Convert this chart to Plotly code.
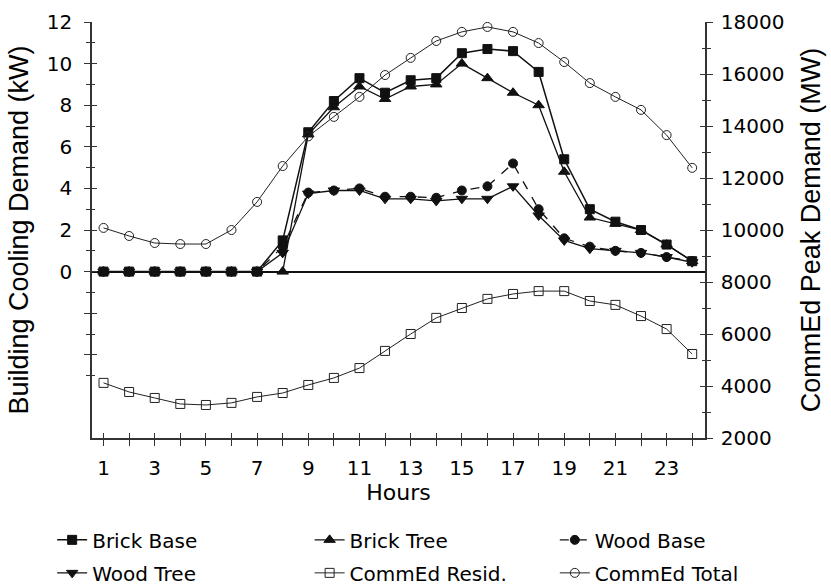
import plotly.graph_objects as go

# Hour of day
hours = list(range(1, 25))
hour_labels = [str(h) if h % 2 == 1 else "" for h in hours]

# Building cooling demand (kW)
brick_base = [0, 0, 0, 0, 0, 0, 0, 1.5, 6.7, 8.2, 9.3, 8.6, 9.2, 9.3,
              10.5, 10.7, 10.6, 9.6, 5.4, 3.0, 2.4, 2.0, 1.3, 0.5]
brick_tree = [0, 0, 0, 0, 0, 0, 0, 0, 6.6, 7.9, 8.9, 8.3, 8.9, 9.0,
              10.0, 9.3, 8.6, 8.0, 4.8, 2.6, 2.3, 2.0, 1.3, 0.5]
wood_base = [0, 0, 0, 0, 0, 0, 0, 1.2, 3.8, 3.9, 4.0, 3.6, 3.6, 3.55,
             3.9, 4.1, 5.2, 3.0, 1.6, 1.2, 1.0, 0.9, 0.7, 0.5]
wood_tree = [0, 0, 0, 0, 0, 0, 0, 0.9, 3.75, 3.9, 3.9, 3.5, 3.5, 3.4,
             3.5, 3.5, 4.1, 2.7, 1.5, 1.1, 1.0, 0.9, 0.7, 0.45]

# CommEd peak demand (MW)
commed_resid = [4120, 3770, 3540, 3310, 3270, 3350, 3580, 3730, 4040, 4310, 4690, 5350,
                6000, 6620, 7000, 7350, 7540, 7650, 7650, 7270, 7120, 6690, 6190, 5230]
commed_total = [10080, 9770, 9500, 9460, 9460, 10000, 11080, 12460, 13600, 14350, 15120, 15960,
                16620, 17270, 17620, 17810, 17620, 17190, 16460, 15650, 15120, 14620, 13650, 12390]

# Axis ticks
kw_range = [-8, 12]
kw_major = [-4, -2, 0, 2, 4, 6, 8, 10, 12]
kw_labels = ["", "", "0", "2", "4", "6", "8", "10", "12"]
kw_minor = [-5, -3, -1, 1, 3, 5, 7, 9, 11]
mw_range = [2000, 18000]
mw_major = [2000, 4000, 6000, 8000, 10000, 12000, 14000, 16000, 18000]
mw_labels = ["2000", "4000", "6000", "8000", "10000", "12000", "14000", "16000", "18000"]
mw_minor = [3000, 5000, 7000, 9000, 11000, 13000, 15000, 17000]
hour_range = [0.55, 24.5]

INK = "#111111"
AXIS = "#333333"
TICK_FONT = dict(family="DejaVu Sans", size=20, color="#000000")
TITLE_FONT = dict(family="Liberation Sans", size=27, color="#000000")
LEGEND_FONT = dict(family="DejaVu Sans", size=20, color="#000000")

fig = go.Figure()


def add_series(name, y, symbol, legend, dash="solid", width=1.4, size=9,
               axis="y", color=INK):
    fig.add_trace(go.Scatter(
        x=hours, y=y, name=name, mode="lines+markers", yaxis=axis,
        line=dict(color=color, width=width, dash=dash),
        marker=dict(symbol=symbol, size=size, color=color,
                    line=dict(color=color, width=1)),
        legend=legend, legendgroup=name,
    ))


add_series("Brick Base", brick_base, "square", "legend", width=1.5, size=9)
add_series("Brick Tree", brick_tree, "triangle-up", "legend2", width=1.3, size=10)
add_series("Wood Base", wood_base, "circle", "legend3", dash="dash", width=1.3, size=9)
add_series("Wood Tree", wood_tree, "triangle-down", "legend", width=1.3, size=10)
add_series("CommEd Resid.", commed_resid, "square-open", "legend2", width=1,
           size=9, axis="y2", color="#222222")
add_series("CommEd Total", commed_total, "circle-open", "legend3", width=1,
           size=9, axis="y2", color="#222222")

# empty traces that carry the inner half of the crossing ticks
for xa, ya in [("x", "y3"), ("x", "y4"), ("x2", "y")]:
    fig.add_trace(go.Scatter(x=[None], y=[None], xaxis=xa, yaxis=ya,
                             showlegend=False, hoverinfo="skip"))

common = dict(showgrid=False, zeroline=False, tickcolor=AXIS, tickwidth=1.3)

fig.update_layout(
    width=831, height=585,
    margin=dict(l=92, r=126, t=22, b=147, autoexpand=False),
    paper_bgcolor="white", plot_bgcolor="white",
    xaxis=dict(
        range=hour_range, tickmode="array", tickvals=hours, ticktext=hour_labels,
        ticks="outside", ticklen=6, showline=True, linecolor=AXIS, linewidth=1.5,
        tickfont=TICK_FONT, ticklabelstandoff=5, anchor="y",
        title=dict(text="Hours", font=dict(family="DejaVu Sans", size=22, color="#000"),
                   standoff=0),
        **common),
    xaxis2=dict(
        range=hour_range, overlaying="x", anchor="y", side="bottom",
        tickmode="array", tickvals=hours, ticks="inside", ticklen=5,
        showticklabels=False, showline=False, **common),
    yaxis=dict(
        range=kw_range, tickmode="array", tickvals=kw_major, ticktext=kw_labels,
        ticks="outside", ticklen=6, showline=True, linecolor=AXIS, linewidth=1.5,
        minor=dict(tickvals=kw_minor, ticks="outside", ticklen=4, tickcolor=AXIS),
        tickfont=TICK_FONT, ticklabelstandoff=8, showgrid=False,
        zeroline=True, zerolinecolor=INK, zerolinewidth=1.5,
        tickcolor=AXIS, tickwidth=1.3,
        title=dict(text="Building Cooling Demand (kW)", font=TITLE_FONT, standoff=10)),
    yaxis2=dict(
        range=mw_range, overlaying="y", side="right", anchor="x",
        tickmode="array", tickvals=mw_major, ticktext=mw_labels,
        ticks="outside", ticklen=6,
        minor=dict(tickvals=mw_minor, ticks="outside", ticklen=4, tickcolor=AXIS),
        showline=True, linecolor=AXIS, linewidth=1.5, tickfont=TICK_FONT,
        ticklabelstandoff=4,
        title=dict(text="CommEd Peak Demand (MW)", font=TITLE_FONT, standoff=18),
        **common),
    yaxis3=dict(
        range=kw_range, overlaying="y", side="left", anchor="x",
        tickmode="array", tickvals=kw_major, ticks="inside", ticklen=5,
        minor=dict(tickvals=kw_minor, ticks="inside", ticklen=3, tickcolor=AXIS),
        showticklabels=False, showline=False, **common),
    yaxis4=dict(
        range=mw_range, overlaying="y", side="right", anchor="x",
        tickmode="array", tickvals=mw_major, ticks="inside", ticklen=5,
        minor=dict(tickvals=mw_minor, ticks="inside", ticklen=3, tickcolor=AXIS),
        showticklabels=False, showline=False, **common),
    showlegend=True,
)

legend_style = dict(orientation="v", yanchor="top", xanchor="left", y=-0.198,
                    font=LEGEND_FONT, bgcolor="rgba(0,0,0,0)", borderwidth=0,
                    traceorder="grouped", tracegroupgap=4)
fig.update_layout(
    legend=dict(x=-0.065, **legend_style),
    legend2=dict(x=0.355, **legend_style),
    legend3=dict(x=0.755, **legend_style),
)

fig.write_html("out.html")
